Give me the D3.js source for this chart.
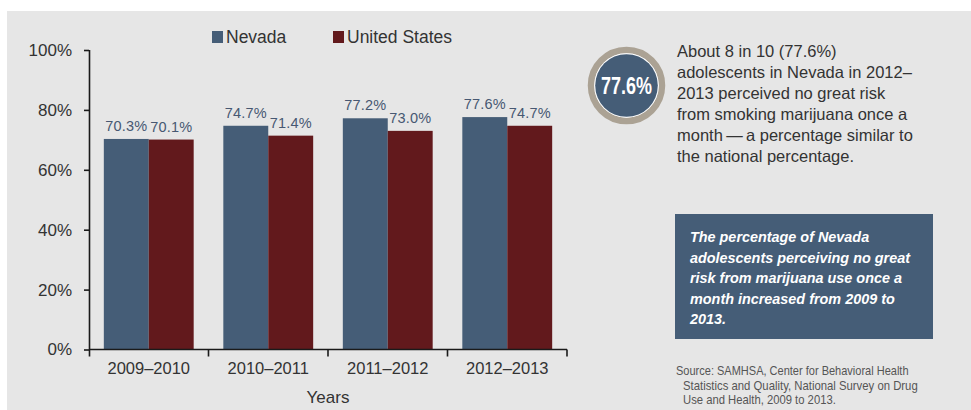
<!DOCTYPE html>
<html>
<head>
<meta charset="utf-8">
<script src="https://cdn.jsdelivr.net/npm/d3@7"></script>
<style>
  html, body { margin: 0; padding: 0; background: #ffffff; }
  svg { display: block; }
  text { font-family: "Liberation Sans", Arial, Helvetica, sans-serif; }
</style>
</head>
<body>
<svg id="chart" width="971" height="410"></svg>
<script>
// Perceived no great risk from smoking marijuana once a month, ages 12–17
const categories = ["2009–2010", "2010–2011", "2011–2012", "2012–2013"];
const seriesNames = ["Nevada", "United States"];
const nevadaValues = [70.3, 74.7, 77.2, 77.6];
const usValues = [70.1, 71.4, 73.0, 74.7];
const yTicks = [0, 20, 40, 60, 80, 100];
const seriesColors = ["#455d77", "#62191c"];

const highlightValue = 77.6;
const noteLines = [
  "About 8 in 10 (77.6%)",
  "adolescents in Nevada in 2012–",
  "2013 perceived no great risk",
  "from smoking marijuana once a",
  "month\u2009—\u2009a percentage similar to",
  "the national percentage."
];
const boxLines = [
  "The percentage of Nevada",
  "adolescents perceiving no great",
  "risk from marijuana use once a",
  "month increased from 2009 to",
  "2013."
];
const sourceLines = [
  "Source: SAMHSA, Center for Behavioral Health",
  "Statistics and Quality, National Survey on Drug",
  "Use and Health, 2009 to 2013."
];
// condensed line widths for the source note
const sourceWidths = [233, 235, 153];

const rows = categories.map((c, i) => ({ category: c, values: [nevadaValues[i], usValues[i]] }));

const svg = d3.select("#chart");

// squeeze a text horizontally to a given width (condensed look without a narrow font)
function condense(sel, x0, y0, width) {
  const natural = sel.node().getComputedTextLength();
  sel.attr("x", 0).attr("y", 0)
    .attr("transform", `translate(${x0},${y0}) scale(${width / natural},1)`);
}

// panel background
svg.append("rect")
  .attr("x", 7).attr("y", 11).attr("width", 964).attr("height", 399)
  .attr("fill", "#e6e6e6");

const plotLeft = 89, plotRight = 567, plotTop = 50, plotBottom = 349.5;

const x = d3.scaleBand().domain(categories).range([plotLeft, plotRight]).paddingInner(0).paddingOuter(0);
const x1 = d3.scaleBand().domain(seriesNames).range([0, x.bandwidth()]).paddingInner(0).paddingOuter(0.33);
const y = d3.scaleLinear().domain([0, 100]).range([plotBottom, plotTop]);

// bars
const groups = svg.append("g").selectAll("g").data(rows).join("g")
  .attr("transform", d => `translate(${x(d.category)},0)`);

groups.selectAll("rect").data(d => d.values.map((v, i) => ({ v, s: seriesNames[i], i })))
  .join("rect")
  .attr("x", d => x1(d.s))
  .attr("y", d => y(d.v))
  .attr("width", x1.bandwidth())
  .attr("height", d => y(0) - y(d.v))
  .attr("fill", d => seriesColors[d.i]);

groups.selectAll("text.val").data(d => d.values.map((v, i) => ({ v, s: seriesNames[i] })))
  .join("text")
  .attr("class", "val")
  .attr("x", d => x1(d.s) + x1.bandwidth() / 2)
  .attr("y", d => y(d.v) - 8)
  .attr("text-anchor", "middle")
  .attr("font-size", 14.5)
  .attr("letter-spacing", "0.2px")
  .attr("fill", "#475872")
  .text(d => d.v.toFixed(1) + "%");

// y axis
const yAxis = d3.axisLeft(y).tickValues(yTicks).tickFormat(d => d + "%").tickSize(5).tickPadding(12);
const gy = svg.append("g").attr("transform", `translate(${plotLeft},0)`).call(yAxis);
gy.select(".domain").attr("d", `M0.5,${plotTop}V${plotBottom + 7}`).attr("stroke", "#1a1a1a").attr("stroke-width", 1.6);
gy.selectAll(".tick line").attr("stroke", "#1a1a1a").attr("stroke-width", 1.6);
gy.selectAll(".tick text").attr("font-size", 17).attr("fill", "#333333")
  .attr("font-family", "'Liberation Sans', Arial, sans-serif");

// x axis with ticks between categories
const xAxis = d3.axisBottom(x).tickSize(0).tickPadding(10);
const gx = svg.append("g").attr("transform", `translate(0,${plotBottom})`).call(xAxis);
gx.select(".domain").attr("d", `M${plotLeft},0H${plotRight}`).attr("stroke", "#1a1a1a").attr("stroke-width", 1.6);
gx.selectAll(".tick text").attr("font-size", 16.5).attr("fill", "#333333").attr("dy", "0.85em")
  .attr("font-family", "'Liberation Sans', Arial, sans-serif");
const boundaries = categories.map(c => x(c)).concat([x(categories[categories.length - 1]) + x.bandwidth()]);
gx.selectAll("line.sep").data(boundaries.slice(1)).join("line")
  .attr("class", "sep")
  .attr("x1", d => d).attr("x2", d => d)
  .attr("y1", 0).attr("y2", 7)
  .attr("stroke", "#1a1a1a").attr("stroke-width", 1.6);

svg.append("text")
  .attr("x", (plotLeft + plotRight) / 2).attr("y", 403)
  .attr("text-anchor", "middle").attr("font-size", 17).attr("fill", "#333333")
  .text("Years");

// legend
const legendX = [212, 333];
const legend = svg.append("g").selectAll("g").data(seriesNames).join("g")
  .attr("transform", (d, i) => `translate(${legendX[i]},31)`);
legend.append("rect").attr("width", 11).attr("height", 12).attr("fill", (d, i) => seriesColors[i]);
legend.append("text").attr("x", 14).attr("y", 12).attr("font-size", 17.5).attr("fill", "#333333").text(d => d);

// highlight badge
const cx = 626.5, cy = 85.5;
svg.append("circle").attr("cx", cx).attr("cy", cy).attr("r", 35.5)
  .attr("fill", "none").attr("stroke", "#aba294").attr("stroke-width", 6.5);
svg.append("circle").attr("cx", cx).attr("cy", cy).attr("r", 32.3).attr("fill", "#ffffff");
svg.append("circle").attr("cx", cx).attr("cy", cy).attr("r", 31.3).attr("fill", seriesColors[0]);
const badge = svg.append("text")
  .attr("font-size", 23).attr("font-weight", "bold")
  .attr("fill", "#ffffff")
  .text(highlightValue.toFixed(1) + "%");
condense(badge, cx - 25.5, cy + 8, 51);

// note text
svg.append("g").selectAll("text").data(noteLines).join("text")
  .attr("x", 677).attr("y", (d, i) => 57 + i * 21)
  .attr("font-size", 16.5).attr("fill", "#333333")
  .text(d => d);

// callout box
svg.append("rect").attr("x", 675).attr("y", 214).attr("width", 258).attr("height", 125)
  .attr("fill", seriesColors[0]);
svg.append("g").selectAll("text").data(boxLines).join("text")
  .attr("x", 690).attr("y", (d, i) => 242 + i * 20.6)
  .attr("font-size", 14.4).attr("font-weight", "bold").attr("font-style", "italic")
  .attr("fill", "#ffffff")
  .text(d => d);

// source
svg.append("g").selectAll("text").data(sourceLines).join("text")
  .attr("font-size", 12.5).attr("fill", "#555555")
  .text(d => d)
  .each(function (d, i) {
    condense(d3.select(this), i === 0 ? 676 : 683, 375 + i * 14.5, sourceWidths[i]);
  });
</script>
</body>
</html>
